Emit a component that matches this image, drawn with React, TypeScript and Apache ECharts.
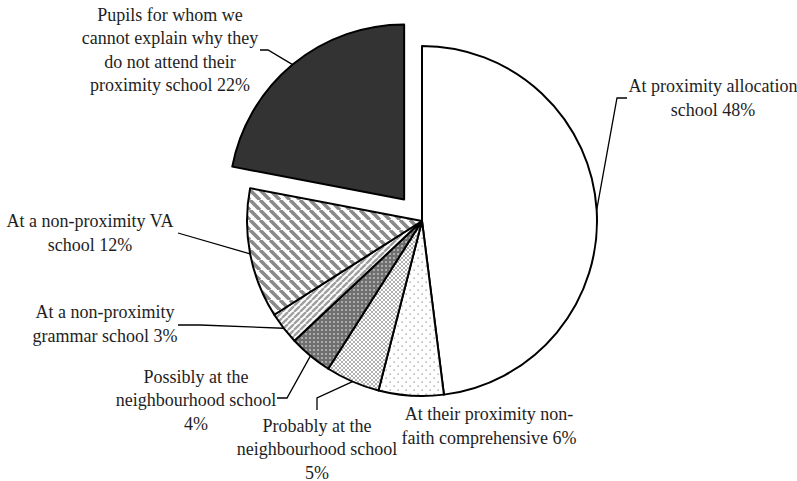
import React, { useEffect, useRef } from "react";
import * as echarts from "echarts";

// ---- data ----
const categories = [
  "At proximity allocation school",
  "At their proximity non-faith comprehensive",
  "Probably at the neighbourhood school",
  "Possibly at the neighbourhood school",
  "At a non-proximity grammar school",
  "At a non-proximity VA school",
  "Pupils for whom we cannot explain why they do not attend their proximity school",
];
const values = [48, 6, 5, 4, 3, 12, 22];
// label text lines (value appended to last line)
const labelLines = [
  ["At proximity allocation", "school"],
  ["At their proximity non-", "faith comprehensive"],
  ["Probably at the", "neighbourhood school", ""],
  ["Possibly at the", "neighbourhood school", ""],
  ["At a non-proximity", "grammar school"],
  ["At a non-proximity VA", "school"],
  ["Pupils for whom we", "cannot explain why they", "do not attend their", "proximity school"],
];
const explodedIndex = 6;

// ---- layout (pixels) ----
const CENTER: [number, number] = [422, 221];
const RADIUS = 175;
const EXPLODE = 28;
const labelPos: [number, number][] = [
  [713, 98],
  [489, 426],
  [317, 449],
  [196, 400],
  [105, 324],
  [90, 233],
  [170, 50],
];
const leaderBends: ([number, number][] | null)[] = [
  [[617, 98], [627, 98]],
  null,
  [[317, 398], [317, 410]],
  [[287, 398], [277, 398]],
  [[200, 325], [178, 325]],
  [[178, 233], [178, 233]],
  [[268, 50], [260, 50]],
];
const FONT = "'Liberation Serif', 'Times New Roman', serif";

function makeTile(size: number, draw: (ctx: CanvasRenderingContext2D, s: number) => void, bg: string) {
  const c = document.createElement("canvas");
  c.width = size;
  c.height = size;
  const ctx = c.getContext("2d")!;
  ctx.fillStyle = bg;
  ctx.fillRect(0, 0, size, size);
  draw(ctx, size);
  return c;
}

function stripeTile(s: number, w: number, color: string, up: boolean) {
  return makeTile(
    s,
    (ctx, size) => {
      ctx.strokeStyle = color;
      ctx.lineWidth = w;
      ctx.beginPath();
      for (let k = -1; k <= 1; k++) {
        if (up) {
          ctx.moveTo(k * size, size);
          ctx.lineTo(k * size + size, 0);
        } else {
          ctx.moveTo(k * size, 0);
          ctx.lineTo(k * size + size, size);
        }
      }
      ctx.stroke();
    },
    "#ffffff"
  );
}

function labelText(i: number) {
  const lines = labelLines[i].slice();
  const last = lines.length - 1;
  lines[last] = (lines[last] ? lines[last] + " " : "") + values[i] + "%";
  return lines.join("\n");
}

export default function App() {
  const ref = useRef<HTMLDivElement>(null);
  useEffect(() => {
    if (!ref.current) return;
    const chart = echarts.init(ref.current, null, { renderer: "svg" });

    const dotsSparse = makeTile(
      8,
      (ctx) => {
        ctx.fillStyle = "#9a9a9a";
        ctx.fillRect(1.5, 1.5, 1.3, 1.3);
        ctx.fillRect(5.5, 5.5, 1.3, 1.3);
      },
      "#ffffff"
    );
    const crossHatch = makeTile(
      4,
      (ctx, s) => {
        ctx.strokeStyle = "#a8a8a8";
        ctx.lineWidth = 0.9;
        ctx.beginPath();
        for (let k = -1; k <= 1; k++) {
          ctx.moveTo(k * s, s);
          ctx.lineTo(k * s + s, 0);
          ctx.moveTo(k * s, 0);
          ctx.lineTo(k * s + s, s);
        }
        ctx.stroke();
      },
      "#ffffff"
    );
    const darkDots = makeTile(
      4,
      (ctx) => {
        ctx.fillStyle = "#e8e8e8";
        ctx.fillRect(1.3, 1.3, 1.4, 1.4);
      },
      "#707070"
    );
    const lightStripes = stripeTile(6, 2.4, "#a0a0a0", true);
    const wideStripes = stripeTile(10, 3.6, "#8a8a8a", false);

    const fills: any[] = [
      "#ffffff",
      { image: dotsSparse, repeat: "repeat" },
      { image: crossHatch, repeat: "repeat" },
      { image: darkDots, repeat: "repeat" },
      { image: lightStripes, repeat: "repeat" },
      { image: wideStripes, repeat: "repeat" },
      "#333333",
    ];

    const total = values.reduce((a, b) => a + b, 0);
    const before = values.slice(0, explodedIndex).reduce((a, b) => a + b, 0);
    const midTheta = (2 * Math.PI * (before + values[explodedIndex] / 2)) / total;
    const explodedCenter = [
      CENTER[0] + Math.sin(midTheta) * EXPLODE,
      CENTER[1] - Math.cos(midTheta) * EXPLODE,
    ];

    const hidden = {
      itemStyle: { color: "rgba(0,0,0,0)", borderWidth: 0 },
      label: { show: false },
      labelLine: { show: false },
    };

    const mainData = categories.map((name, i) =>
      i === explodedIndex
        ? { name, value: values[i], ...hidden }
        : {
            name,
            value: values[i],
            itemStyle: { color: fills[i] },
            labelLine: { show: leaderBends[i] !== null },
            label: { formatter: () => labelText(i) },
          }
    );
    const explodedData = categories.map((name, i) =>
      i === explodedIndex
        ? {
            name,
            value: values[i],
            itemStyle: { color: fills[i] },
            labelLine: { show: true },
            label: { formatter: () => labelText(i) },
          }
        : { name, value: values[i], ...hidden }
    );

    const common = {
      type: "pie",
      radius: RADIUS,
      startAngle: 90,
      clockwise: true,
      avoidLabelOverlap: false,
      silent: true,
      itemStyle: { borderColor: "#000000", borderWidth: 2 },
      label: {
        show: true,
        position: "outside",
        fontFamily: FONT,
        fontSize: 18,
        lineHeight: 23.5,
        color: "#1e1e1e",
        align: "center",
      },
      labelLine: {
        show: true,
        length: 10,
        length2: 10,
        lineStyle: { color: "#000000", width: 1.3 },
      },
      labelLayout: (params: any) => {
        const i = params.dataIndex;
        const pos = labelPos[i];
        const bends = leaderBends[i];
        const res: any = {
          x: pos[0],
          y: pos[1],
          align: "center",
          verticalAlign: "middle",
        };
        if (bends && params.labelLinePoints) {
          res.labelLinePoints = [params.labelLinePoints[0], bends[0], bends[1]];
        }
        return res;
      },
    };

    chart.setOption({
      animation: false,
      backgroundColor: "#ffffff",
      textStyle: { fontFamily: FONT },
      series: [
        { ...common, center: CENTER, data: mainData },
        { ...common, center: explodedCenter, data: explodedData },
      ],
    });
    return () => chart.dispose();
  }, []);
  return (
    <div
      ref={ref}
      style={{ position: "fixed", left: 0, top: 0, width: 797, height: 481 }}
    />
  );
}
